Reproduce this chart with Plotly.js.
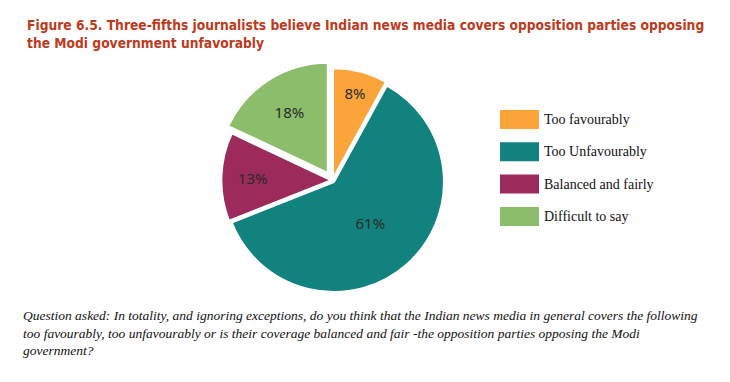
<!DOCTYPE html>
<html>
<head>
<meta charset="utf-8">
<script src="https://cdn.plot.ly/plotly-3.0.1.min.js"></script>
<style>html,body{margin:0;padding:0;background:#fff;}#chart{width:730px;height:382px;}</style>
</head>
<body>
<div id="chart"></div>
<script>
const labels = ["Too favourably", "Too Unfavourably", "Balanced and fairly", "Difficult to say"];
const values = [8, 61, 13, 18];
const colors = ["#FAA43A", "#12827E", "#9C2A5A", "#8BBD6B"];
const pulls = [0.02, 0.02, 0.01, 0.08];
const titleText = "Figure 6.5. Three-fifths journalists believe Indian news media covers opposition parties opposing<br>the Modi government unfavorably";
const noteText = "Question asked: In totality, and ignoring exceptions, do you think that the Indian news media in general covers the following<br>too favourably, too unfavourably or is their coverage balanced and fair -the opposition parties opposing the Modi<br>government?";

const W = 730, H = 382;
const trace = {
  type: "pie",
  labels: labels,
  values: values,
  sort: false,
  direction: "clockwise",
  rotation: 0,
  pull: pulls,
  marker: {colors: colors, line: {color: "#ffffff", width: 2}},
  texttemplate: "%{value}%",
  textposition: "inside",
  insidetextorientation: "horizontal",
  textfont: {family: "Noto Sans", size: 15, color: "#2a2a2a"},
  hoverinfo: "label+percent",
  showlegend: false,
  domain: {x: [0.2927, 0.6182], y: [0.217, 0.839]}
};

// custom legend (large swatches like the reference)
const shapes = [];
const annotations = [];
const legX0 = 500 / W, legX1 = 539 / W, legTop = 110, legStep = 32.3, swH = 19;
labels.forEach((lab, i) => {
  const top = legTop + i * legStep;
  shapes.push({type: "rect", xref: "paper", yref: "paper",
    x0: legX0, x1: legX1, y0: 1 - (top + swH) / H, y1: 1 - top / H,
    fillcolor: colors[i], line: {width: 0}});
  annotations.push({xref: "paper", yref: "paper", x: 542 / W, y: 1 - (top + swH / 2) / H,
    xanchor: "left", yanchor: "middle", showarrow: false, text: lab,
    font: {family: "Liberation Serif", size: 14, color: "#111"}});
});
annotations.push({xref: "paper", yref: "paper", x: 21 / W, y: 1 - 306 / H,
  xanchor: "left", yanchor: "top", align: "left", showarrow: false, text: noteText,
  font: {family: "Liberation Serif", size: 13.5, color: "#111", style: "italic"}});

const layout = {
  width: W, height: H,
  margin: {l: 0, r: 0, t: 0, b: 0},
  paper_bgcolor: "#ffffff",
  title: {text: titleText, x: 27 / W, xanchor: "left", xref: "container",
    y: 1 - 30 / H, yanchor: "top", yref: "container",
    font: {family: "DejaVu Sans Condensed", size: 13.7, color: "#BE3A1C", weight: "bold"}},
  shapes: shapes,
  annotations: annotations,
  showlegend: false
};
Plotly.newPlot("chart", [trace], layout, {displayModeBar: false, staticPlot: true});
</script>
</body>
</html>
